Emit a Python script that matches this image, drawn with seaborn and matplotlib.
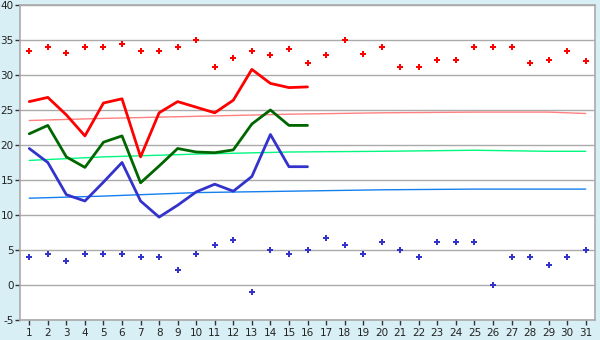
import matplotlib
matplotlib.use("Agg")
import matplotlib.pyplot as plt
import seaborn as sns
import pandas as pd
import numpy as np

days = list(range(1, 32))
max_pts = [33.4, 34.0, 33.2, 34.0, 34.0, 34.4, 33.4, 33.4, 34.0, 35.0,
           31.1, 32.5, 33.5, 32.8, 33.7, 31.7, 32.8, 35.0, 33.0, 34.0,
           31.1, 31.1, 32.2, 32.2, 34.0, 34.0, 34.0, 31.7, 32.2, 33.4, 32.0]
min_pts = [4.0, 4.4, 3.4, 4.4, 4.4, 4.4, 4.0, 4.0, 2.2, 4.4,
           5.7, 6.5, -1.0, 5.0, 4.4, 5.0, 6.7, 5.7, 4.4, 6.1,
           5.0, 4.0, 6.1, 6.1, 6.1, 0.0, 4.0, 4.0, 2.8, 4.0, 5.0]
line_days = list(range(1, 17))
red_line = [26.2, 26.8, 24.3, 21.3, 26.0, 26.6, 18.3, 24.6, 26.2, 25.4,
            24.6, 26.4, 30.8, 28.8, 28.2, 28.3]
green_line = [21.6, 22.8, 18.3, 16.8, 20.4, 21.3, 14.6, 17.0, 19.5, 19.0,
              18.9, 19.3, 23.0, 25.0, 22.8, 22.8]
blue_line = [19.5, 17.5, 12.9, 12.0, 14.7, 17.5, 12.0, 9.7, 11.4, 13.3,
             14.4, 13.4, 15.5, 21.5, 16.9, 16.9]
trend_days = [1, 5, 10, 15, 20, 25, 29, 31]
pink_trend = [23.5, 23.8, 24.1, 24.4, 24.6, 24.7, 24.7, 24.5]
lgreen_trend = [17.8, 18.3, 18.7, 19.0, 19.1, 19.25, 19.1, 19.1]
lblue_trend = [12.4, 12.7, 13.2, 13.4, 13.6, 13.7, 13.7, 13.7]
y_ticks = list(range(-5, 41, 5))

sns.set_theme(style="white")
plt.rcParams['font.family'] = ['DejaVu Sans']
plt.rcParams['axes.unicode_minus'] = False

fig = plt.figure(figsize=(6, 3.4), dpi=100)
bg = "#D9EFF6"
fig.patch.set_facecolor(bg)
ax = fig.add_axes([20/600, 1-320/340, 575/600, 315/340])
ax.set_facecolor("white")

for v in y_ticks:
    ax.axhline(v, color="#AAAAAA", lw=1, zorder=0)

df_t = pd.DataFrame({"d": trend_days, "p": pink_trend, "g": lgreen_trend, "b": lblue_trend})
sns.lineplot(data=df_t, x="d", y="p", ax=ax, color="#FF8080", lw=1)
sns.lineplot(data=df_t, x="d", y="g", ax=ax, color="#00F880", lw=1)
sns.lineplot(data=df_t, x="d", y="b", ax=ax, color="#1480EE", lw=1)

df_l = pd.DataFrame({"d": line_days, "r": red_line, "g": green_line, "b": blue_line})
sns.lineplot(data=df_l, x="d", y="r", ax=ax, color="#FF0000", lw=2)
sns.lineplot(data=df_l, x="d", y="g", ax=ax, color="#006600", lw=2)
sns.lineplot(data=df_l, x="d", y="b", ax=ax, color="#3333CC", lw=2)

df_p = pd.DataFrame({"d": days, "mx": max_pts, "mn": min_pts})
sns.scatterplot(data=df_p, x="d", y="mx", ax=ax, color="#FF0000", marker="P", s=24, linewidth=0)
sns.scatterplot(data=df_p, x="d", y="mn", ax=ax, color="#3333CC", marker="P", s=24, linewidth=0)

ax.set_xlim(0.5, 31.5)
ax.set_ylim(-5, 40)
ax.set_xticks(days)
ax.set_xticklabels([str(d) for d in days])
ax.set_yticks(y_ticks)
ax.set_yticklabels([str(v) for v in y_ticks])
ax.set_xlabel("")
ax.set_ylabel("")
ax.tick_params(axis="both", which="both", direction="out", length=3.5, width=1,
               color="#333333", labelsize=7.5, labelcolor="#222222", pad=1)
ax.tick_params(axis="x", bottom=True, pad=2)
ax.tick_params(axis="y", left=True)
for s in ax.spines.values():
    s.set_color("#AAAAAA")
    s.set_linewidth(1.2)

fig.savefig("out.png", dpi=100, facecolor=bg)
